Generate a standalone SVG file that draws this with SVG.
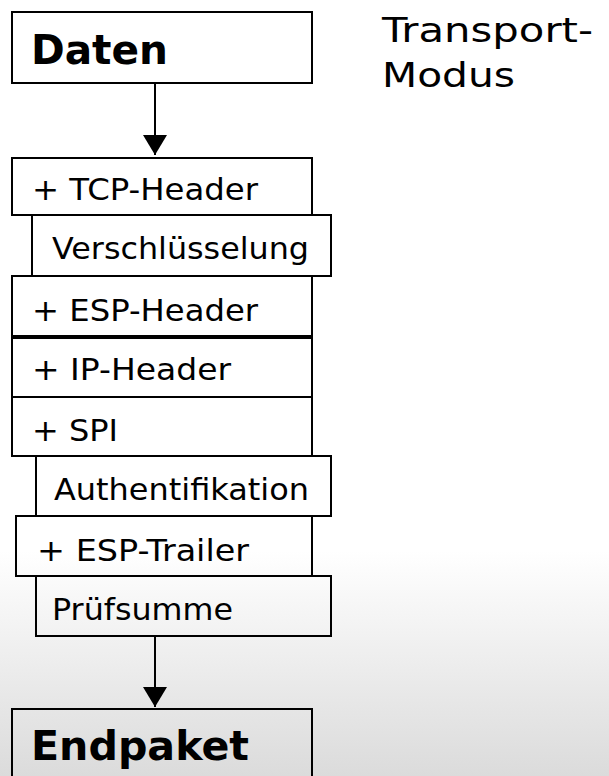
<svg xmlns="http://www.w3.org/2000/svg" width="609" height="776" viewBox="0 0 609 776">
  <defs>
    <linearGradient id="bg" x1="0" y1="0" x2="0" y2="1">
      <stop offset="0" stop-color="#ffffff"/>
      <stop offset="0.71" stop-color="#ffffff"/>
      <stop offset="1" stop-color="#dbdbdb"/>
    </linearGradient>
    <marker id="arrowhead" markerUnits="userSpaceOnUse" markerWidth="20" markerHeight="24" refX="20" refY="12" orient="auto" viewBox="0 0 20 24">
      <path d="M0,0 L20,12 L0,24 Z" fill="#000"/>
    </marker>
  </defs>
  <style>
    .box { fill: none; stroke: #000; stroke-width: 2; }
    text { fill: #000; font-family: "DejaVu Sans", Verdana, sans-serif; }
    .lbl { font-size: 30px; }
    .big { font-size: 40px; font-weight: bold; }
    .title { font-size: 34px; }
    .conn { stroke: #000; stroke-width: 2; fill: none; }
  </style>

  <rect x="0" y="0" width="609" height="776" fill="url(#bg)"/>

  <g id="title">
    <text class="title" x="382" y="42" textLength="211" lengthAdjust="spacingAndGlyphs">Transport-</text>
    <text class="title" x="382" y="87" textLength="133" lengthAdjust="spacingAndGlyphs">Modus</text>
  </g>

  <g id="daten">
    <rect class="box" x="12" y="12" width="300" height="71"/>
    <text class="big" x="31" y="64" textLength="137" lengthAdjust="spacingAndGlyphs">Daten</text>
  </g>

  <g id="tcp-header">
    <rect class="box" x="12" y="158" width="300" height="57"/>
    <text class="lbl" x="32" y="200" textLength="226" lengthAdjust="spacingAndGlyphs">+ TCP-Header</text>
  </g>

  <g id="verschluesselung">
    <rect class="box" x="32" y="215" width="299" height="61"/>
    <text class="lbl" x="52" y="259" textLength="257" lengthAdjust="spacingAndGlyphs">Verschlüsselung</text>
  </g>

  <g id="esp-header">
    <rect class="box" x="12" y="276" width="300" height="60"/>
    <text class="lbl" x="32" y="321" textLength="226" lengthAdjust="spacingAndGlyphs">+ ESP-Header</text>
  </g>

  <g id="ip-header">
    <rect class="box" x="12" y="338" width="300" height="59"/>
    <text class="lbl" x="32" y="380" textLength="199" lengthAdjust="spacingAndGlyphs">+ IP-Header</text>
  </g>

  <g id="spi">
    <rect class="box" x="12" y="397" width="300" height="59"/>
    <text class="lbl" x="32" y="441" textLength="86" lengthAdjust="spacingAndGlyphs">+ SPI</text>
  </g>

  <g id="authentifikation">
    <rect class="box" x="36" y="456" width="295" height="60"/>
    <text class="lbl" x="54" y="500" textLength="255" lengthAdjust="spacingAndGlyphs">Authentifikation</text>
  </g>

  <g id="esp-trailer">
    <rect class="box" x="16" y="516" width="296" height="60"/>
    <text class="lbl" x="37" y="561" textLength="212" lengthAdjust="spacingAndGlyphs">+ ESP-Trailer</text>
  </g>

  <g id="pruefsumme">
    <rect class="box" x="36" y="576" width="295" height="60"/>
    <text class="lbl" x="52" y="620" textLength="181" lengthAdjust="spacingAndGlyphs">Prüfsumme</text>
  </g>

  <g id="endpaket">
    <rect class="box" x="12" y="709" width="300" height="100"/>
    <text class="big" x="31" y="760" textLength="218" lengthAdjust="spacingAndGlyphs">Endpaket</text>
  </g>

  <g id="connectors">
    <line class="conn" x1="155" y1="83" x2="155" y2="155" marker-end="url(#arrowhead)"/>
    <line class="conn" x1="155" y1="636" x2="155" y2="707" marker-end="url(#arrowhead)"/>
  </g>
</svg>
